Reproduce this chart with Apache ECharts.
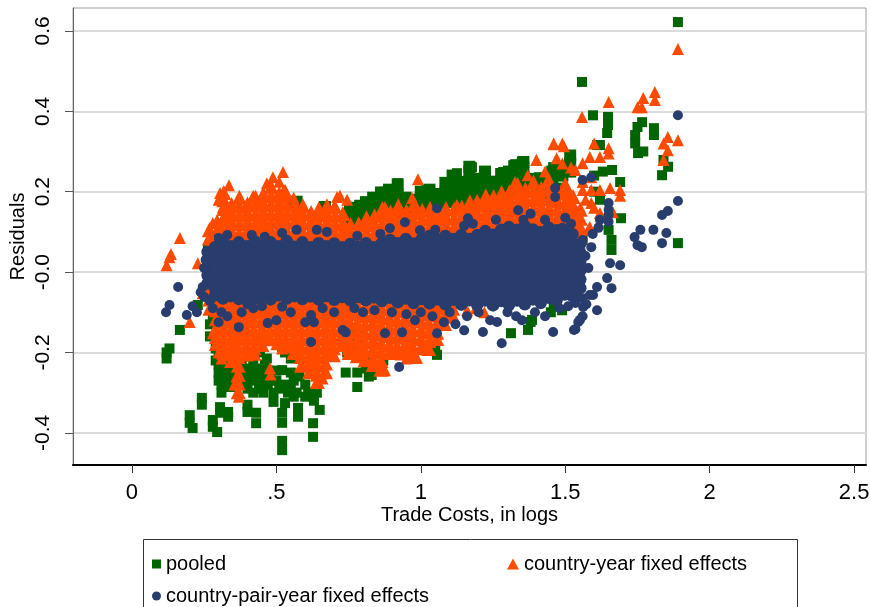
<!DOCTYPE html>
<html>
<head>
<meta charset="utf-8">
<script src="https://cdn.jsdelivr.net/npm/echarts@6/dist/echarts.min.js"></script>
<style>
  html, body { margin: 0; padding: 0; background: #fff; }
  #chart { width: 870px; height: 607px; }
</style>
</head>
<body>
<div id="chart"></div>
<script>
// axis ticks
const xTicks = [0, 0.5, 1, 1.5, 2, 2.5];
const xTickLabels = ['0', '.5', '1', '1.5', '2', '2.5'];
const yTicks = [-0.4, -0.2, 0, 0.2, 0.4, 0.6];
const yTickLabels = ['-0.4', '-0.2', '-0.0', '0.2', '0.4', '0.6'];

// ---- country-pair-year fixed effects (navy circles) ----
// dense band: [x, y, y, ...]
const pairBand = [
  [0.262, -.028, -.008, .012, .032, .05],
  [0.288, -.058, -.04, -.018, .002, .022, .042, .062],
  [0.315, -.066, -.047, -.027, -.006, .014, .034, .054, .072],
  [0.342, -.06, -.038, -.018, .003, .024, .044, .064],
  [0.37, -.067, -.048, -.027, -.007, .013, .033, .053, .074],
  [0.398, -.058, -.037, -.017, .004, .024, .045, .064],
  [0.425, -.066, -.046, -.026, -.005, .015, .035, .056, .076],
  [0.452, -.06, -.038, -.016, .004, .025, .044, .066],
  [0.48, -.068, -.047, -.027, -.006, .014, .034, .055, .074],
  [0.508, -.058, -.037, -.017, .003, .023, .043, .064],
  [0.536, -.066, -.046, -.025, -.005, .016, .036, .056, .077],
  [0.563, -.06, -.039, -.019, .002, .022, .042, .063],
  [0.59, -.067, -.047, -.026, -.006, .014, .035, .055, .074],
  [0.618, -.061, -.04, -.02, .001, .021, .041, .062],
  [0.646, -.068, -.048, -.028, -.007, .013, .033, .053, .072],
  [0.673, -.06, -.039, -.018, .002, .022, .043, .064],
  [0.70, -.069, -.049, -.028, -.008, .012, .032, .052, .071],
  [0.728, -.062, -.041, -.021, 0, .02, .041, .062],
  [0.756, -.07, -.05, -.029, -.009, .011, .031, .051, .07],
  [0.783, -.062, -.041, -.02, .001, .021, .042, .063],
  [0.81, -.07, -.05, -.03, -.009, .011, .031, .052, .072],
  [0.838, -.063, -.042, -.021, 0, .02, .041, .062],
  [0.865, -.072, -.051, -.03, -.01, .01, .031, .051, .072],
  [0.893, -.064, -.043, -.022, -.001, .02, .041, .062, .08],
  [0.92, -.075, -.054, -.033, -.012, .009, .03, .051, .072],
  [0.948, -.066, -.044, -.023, -.002, .019, .04, .061, .082],
  [0.975, -.077, -.056, -.035, -.013, .008, .029, .05, .071],
  [1.003, -.067, -.045, -.024, -.003, .018, .039, .06, .082],
  [1.03, -.078, -.057, -.035, -.014, .007, .028, .05, .071, .09],
  [1.058, -.068, -.046, -.025, -.003, .018, .039, .06, .081],
  [1.085, -.08, -.058, -.036, -.015, .006, .028, .049, .07, .09],
  [1.113, -.069, -.047, -.025, -.004, .017, .039, .06, .082],
  [1.14, -.081, -.059, -.037, -.015, .006, .027, .049, .07, .092],
  [1.168, -.07, -.048, -.026, -.004, .017, .038, .06, .082],
  [1.195, -.082, -.06, -.038, -.016, .005, .027, .049, .07, .092],
  [1.223, -.071, -.049, -.027, -.005, .017, .039, .061, .083, .102],
  [1.25, -.083, -.061, -.039, -.017, .005, .027, .049, .071, .093],
  [1.278, -.072, -.05, -.027, -.005, .017, .039, .061, .083, .105],
  [1.305, -.082, -.06, -.038, -.016, .006, .028, .05, .072, .094, .112],
  [1.333, -.071, -.049, -.026, -.004, .018, .04, .062, .084, .105],
  [1.36, -.08, -.058, -.036, -.014, .008, .03, .052, .074, .096, .114],
  [1.388, -.068, -.046, -.024, -.002, .02, .042, .064, .086, .106],
  [1.415, -.077, -.055, -.033, -.011, .011, .033, .055, .077, .099],
  [1.443, -.064, -.042, -.02, .002, .024, .046, .068, .09, .11],
  [1.47, -.07, -.048, -.026, -.004, .018, .04, .062, .084, .104],
  [1.498, -.056, -.034, -.012, .01, .032, .054, .076, .098],
  [1.525, -.06, -.038, -.016, .006, .028, .05, .072, .094],
  [1.552, -.04, -.018, .004, .026, .048, .07]
];
const pairScatter = [
  [0.16, -0.037], [0.245, -0.037], [0.13, -0.082], [0.118, -0.1], [0.21, -0.085], [0.19, -0.107],
  [0.225, -0.1], [0.25, -0.062], [0.238, -0.05], [0.27, -0.072], [0.255, 0.03], [0.25, 0.01],
  [0.28, -0.09], [0.3, -0.125], [0.31, -0.1], [0.33, -0.11], [0.37, -0.137], [0.38, -0.1],
  [0.4, -0.08], [0.42, -0.09], [0.45, -0.085], [0.47, -0.127], [0.5, -0.12], [0.52, -0.086],
  [0.55, -0.1], [0.6, -0.125], [0.62, -0.107], [0.63, -0.125], [0.62, -0.174], [0.66, -0.09],
  [0.7, -0.1], [0.73, -0.144], [0.74, -0.15], [0.77, -0.09], [0.8, -0.1], [0.84, -0.095],
  [0.876, -0.152], [0.9, -0.1], [0.935, -0.15], [0.95, -0.105], [0.98, -0.12], [1.0, -0.1],
  [1.04, -0.11], [1.08, -0.125], [1.1, -0.1], [1.12, -0.13], [1.15, -0.145], [1.16, -0.11],
  [1.2, -0.1], [1.215, -0.149], [1.24, -0.12], [1.264, -0.124], [1.28, -0.177], [1.3, -0.1],
  [1.33, -0.11], [1.35, -0.12], [1.395, -0.1], [1.43, -0.11], [1.458, -0.149], [1.48, -0.09],
  [1.51, -0.085], [1.53, -0.144], [1.535, -0.077], [1.545, -0.124], [1.551, -0.119], [1.562, -0.087],
  [0.925, -0.236], [1.056, -0.152],
  [0.3, 0.085], [0.33, 0.092], [0.415, 0.092], [0.46, 0.088], [0.52, 0.097], [0.57, 0.105],
  [0.64, 0.105], [0.675, 0.1], [0.78, 0.09], [0.86, 0.095], [0.893, 0.109], [0.945, 0.124],
  [0.997, 0.104], [1.056, 0.159], [1.05, 0.105], [1.15, 0.115], [1.163, 0.134], [1.18, 0.12],
  [1.26, 0.13], [1.31, 0.11], [1.337, 0.154], [1.355, 0.13], [1.38, 0.145], [1.43, 0.13],
  [1.465, 0.209], [1.465, 0.187], [1.49, 0.11], [1.5, 0.135], [1.52, 0.12], [1.5, 0.08],
  [1.52, 0.055], [1.54, 0.022], [1.54, 0.0], [1.57, 0.04], [1.58, 0.01],
  [1.56, 0.08], [1.59, 0.062], [1.595, 0.095], [1.615, 0.11], [1.62, 0.13], [1.65, 0.125],
  [1.65, 0.142], [1.65, 0.155], [1.65, 0.172], [1.56, 0.229], [1.59, 0.236],
  [1.645, -0.015], [1.655, 0.022], [1.69, 0.017], [1.66, -0.04], [1.61, -0.037], [1.585, -0.057],
  [1.56, -0.065], [1.573, -0.08], [1.61, -0.095], [1.56, -0.11], [1.596, -0.057], [1.535, -0.142],
  [1.74, 0.087], [1.75, 0.067], [1.765, 0.062], [1.76, 0.105], [1.805, 0.105], [1.85, 0.097],
  [1.835, 0.072], [1.835, 0.142], [1.855, 0.152], [1.89, 0.177], [1.89, 0.39]
];

// ---- country-year fixed effects (orange triangles) ----
const yearUpper = [
  [0.268, .04, .062, .085, .105],
  [0.295, .06, .082, .104, .126],
  [0.318, .07, .092, .114, .136, .158, .18, .198],
  [0.345, .08, .102, .124, .146, .168],
  [0.372, .075, .097, .12, .142, .164, .186],
  [0.40, .082, .104, .126, .148, .17],
  [0.428, .078, .1, .122, .144, .166, .186],
  [0.455, .084, .106, .128, .15, .172, .194],
  [0.482, .08, .102, .124, .146, .168, .19, .212],
  [0.51, .086, .108, .13, .152, .174, .196],
  [0.537, .08, .102, .124, .146, .168, .19],
  [0.565, .084, .106, .128, .15, .168],
  [0.592, .078, .1, .122, .144, .165],
  [0.62, .082, .104, .126, .148],
  [0.647, .076, .098, .12, .142, .158],
  [0.675, .08, .102, .124, .146, .165],
  [0.702, .075, .097, .119, .141, .163],
  [0.73, .08, .102, .124, .146],
  [0.757, .074, .096, .118],
  [0.785, .08, .1, .12],
  [0.812, .075, .097, .118, .135],
  [0.84, .08, .1, .12, .14],
  [0.867, .076, .098, .12, .142, .158],
  [0.895, .084, .106, .128, .15],
  [0.922, .08, .102, .124, .146, .165],
  [0.95, .086, .108, .13, .152],
  [0.977, .082, .104, .126, .148, .17],
  [1.005, .088, .11, .132, .154],
  [1.032, .092, .114, .136, .158],
  [1.06, .088, .11, .132, .152],
  [1.087, .094, .116, .138, .158],
  [1.115, .09, .112, .134, .156],
  [1.142, .096, .118, .14, .162],
  [1.17, .092, .114, .136, .158, .175],
  [1.197, .1, .122, .144, .166],
  [1.225, .106, .128, .15, .172, .19],
  [1.252, .102, .124, .146, .168, .188],
  [1.28, .11, .132, .154, .176, .198],
  [1.307, .116, .138, .16, .182, .2],
  [1.335, .11, .132, .154, .176, .198, .218],
  [1.362, .118, .14, .162, .184, .206],
  [1.39, .114, .136, .158, .18, .202, .224],
  [1.417, .12, .142, .164, .186, .208],
  [1.445, .116, .138, .16, .182, .204, .226],
  [1.472, .112, .134, .156, .178, .2],
  [1.50, .108, .13, .152, .174, .196, .218],
  [1.527, .1, .122, .144, .166, .188],
  [1.552, .09, .112, .134, .156]
];
const yearLower = [
  [0.27, -.045, -.067, -.09],
  [0.292, -.05, -.072, -.094, -.116, -.138, -.16, -.178],
  [0.318, -.055, -.077, -.099, -.121, -.143, -.165, -.187, -.2],
  [0.345, -.05, -.072, -.094, -.116, -.138, -.16, -.182, -.204, -.22],
  [0.368, -.056, -.078, -.1, -.122, -.144, -.166, -.188, -.21, -.232, -.254, -.276, -.298],
  [0.395, -.05, -.072, -.094, -.116, -.138, -.16, -.182, -.204],
  [0.422, -.056, -.078, -.1, -.122, -.144, -.166, -.188, -.202],
  [0.45, -.05, -.072, -.094, -.116, -.138, -.16, -.18],
  [0.477, -.056, -.078, -.1, -.122, -.144, -.166],
  [0.505, -.05, -.072, -.094, -.116, -.138, -.16, -.176],
  [0.532, -.056, -.078, -.1, -.122, -.144, -.166, -.184],
  [0.56, -.05, -.072, -.094, -.116, -.138, -.16, -.182, -.2],
  [0.587, -.056, -.078, -.1, -.122, -.144, -.166, -.188, -.21, -.232],
  [0.615, -.05, -.072, -.094, -.116, -.138, -.16, -.182, -.204, -.226, -.248],
  [0.642, -.056, -.078, -.1, -.122, -.144, -.166, -.188, -.21, -.232, -.254, -.272],
  [0.67, -.05, -.072, -.094, -.116, -.138, -.16, -.182, -.204, -.226, -.248],
  [0.697, -.056, -.078, -.1, -.122, -.144, -.166, -.188, -.206],
  [0.725, -.05, -.072, -.094, -.116, -.138, -.16, -.18],
  [0.752, -.056, -.078, -.1, -.122, -.144, -.166, -.188, -.2],
  [0.78, -.06, -.082, -.104, -.126, -.148, -.17, -.19, -.208],
  [0.807, -.064, -.086, -.108, -.13, -.152, -.174, -.196, -.218],
  [0.835, -.06, -.082, -.104, -.126, -.148, -.17, -.192, -.214, -.23],
  [0.862, -.066, -.088, -.11, -.132, -.154, -.176, -.198, -.22, -.242],
  [0.89, -.07, -.092, -.114, -.136, -.158, -.18, -.2],
  [0.917, -.074, -.096, -.118, -.14, -.162, -.184, -.2],
  [0.945, -.07, -.092, -.114, -.136, -.158, -.18, -.198],
  [0.972, -.076, -.098, -.12, -.142, -.164, -.186, -.21],
  [1.0, -.078, -.1, -.122, -.144, -.166, -.188],
  [1.027, -.082, -.104, -.126, -.148, -.17, -.19],
  [1.055, -.084, -.106, -.128, -.15, -.165],
  [1.082, -.088, -.11, -.128],
  [1.11, -.09, -.108]
];
const yearScatter = [
  [0.166, 0.085], [0.13, 0.037], [0.12, 0.017], [0.135, 0.045], [0.228, 0.022], [0.245, -0.053],
  [0.2, -0.124], [0.28, -0.152], [0.29, -0.14],
  [0.305, 0.197], [0.315, 0.162], [0.336, 0.216], [0.28, 0.122], [0.3, 0.18], [0.42, 0.19],
  [0.455, 0.197], [0.467, 0.221], [0.488, 0.236], [0.523, 0.249], [0.523, 0.2], [0.51, 0.225],
  [0.53, 0.205], [0.56, 0.185], [0.71, 0.187], [0.745, 0.18], [0.72, 0.19], [0.876, 0.162],
  [0.97, 0.184], [0.99, 0.231], [1.125, 0.167], [1.195, 0.18], [1.326, 0.224], [1.37, 0.241],
  [1.4, 0.279], [1.43, 0.25], [1.46, 0.32], [1.49, 0.32], [1.49, 0.27], [1.52, 0.26],
  [1.19, -0.09], [1.22, -0.1], [1.25, -0.075], [1.16, -0.095],
  [0.363, -0.26], [0.355, -0.28], [0.37, -0.31], [0.478, -0.239], [0.48, -0.255], [0.876, -0.244],
  [0.987, -0.214], [1.02, -0.19], [0.93, -0.205], [0.95, -0.215], [0.3, -0.2], [0.31, -0.215],
  [0.52, -0.19], [0.64, -0.276], [0.66, -0.265],
  [1.89, 0.555], [1.81, 0.448], [1.81, 0.428], [1.77, 0.433], [1.75, 0.41], [1.765, 0.41],
  [1.65, 0.423], [1.558, 0.386], [1.89, 0.328], [1.855, 0.336], [1.84, 0.32], [1.855, 0.303],
  [1.84, 0.279], [1.6, 0.32], [1.65, 0.308], [1.65, 0.295], [1.62, 0.286], [1.46, 0.318],
  [1.495, 0.313], [1.40, 0.279], [1.47, 0.283], [1.585, 0.286], [1.56, 0.271], [1.535, 0.254],
  [1.56, 0.224], [1.59, 0.236], [1.435, 0.224], [1.49, 0.21], [1.51, 0.204], [1.56, 0.204],
  [1.59, 0.204], [1.62, 0.204], [1.655, 0.209], [1.69, 0.204], [1.69, 0.19], [1.59, 0.172],
  [1.62, 0.147], [1.585, 0.112], [1.58, 0.105], [1.615, 0.122], [1.665, 0.149], [1.6, 0.16],
  [1.57, 0.18]
];

// ---- pooled (green squares) ----
const pooledUpper = [
  [0.57, .16, .175],
  [0.668, .15, .162],
  [0.755, .124, .146, .16],
  [0.79, .13, .15, .165],
  [0.81, .14, .162, .174],
  [0.835, .15, .172, .185],
  [0.862, .16, .18, .198],
  [0.89, .165, .185, .205],
  [0.92, .17, .192, .218],
  [0.947, .165, .185],
  [0.975, .16, .18],
  [1.0, .165, .185, .2],
  [1.03, .17, .19, .205],
  [1.058, .172, .194],
  [1.085, .175, .197, .222],
  [1.11, .175, .197, .22, .24],
  [1.14, .18, .202, .224],
  [1.168, .182, .204, .226, .25, .262],
  [1.195, .186, .208, .232],
  [1.222, .19, .212, .234, .25],
  [1.25, .195, .217, .225],
  [1.278, .2, .222, .244],
  [1.305, .206, .228, .25],
  [1.33, .21, .232, .254, .266],
  [1.355, .216, .238, .26, .274],
  [1.38, .22, .232],
  [1.41, .2, .222],
  [1.43, .21, .232],
  [1.455, .22, .242, .25],
  [1.49, .24, .26],
  [1.517, .25, .27, .29]
];
const pooledCore = [
  [0.35, .05, -.05], [0.45, .1, 0, -.1], [0.55, .08, -.04], [0.65, .1, 0, -.1],
  [0.75, .06, -.06], [0.85, .1, 0, -.1], [0.95, .12, .02, -.08], [1.05, .14, .04, -.06],
  [1.15, .15, .05, -.05], [1.25, .16, .06, -.04], [1.35, .17, .07, -.03], [1.45, .18, .08, -.02]
];
const pooledScatter = [
  [0.12, -0.2], [0.12, -0.215], [0.13, -0.19], [0.166, -0.144], [0.228, -0.082], [0.287, -0.052],
  [0.287, -0.075], [0.263, 0.055], [0.242, -0.313], [0.242, -0.33], [0.2, -0.356], [0.2, -0.375],
  [0.21, -0.388], [0.28, -0.368], [0.28, -0.385], [0.295, -0.398], [0.305, -0.336], [0.305, -0.35],
  [0.333, -0.348], [0.333, -0.36], [0.31, -0.3], [0.31, -0.28],
  [0.3, -0.23], [0.3, -0.25], [0.32, -0.24], [0.32, -0.26], [0.34, -0.23], [0.34, -0.25],
  [0.36, -0.24], [0.38, -0.23], [0.38, -0.25], [0.39, -0.27], [0.4, -0.29], [0.33, -0.27],
  [0.34, -0.286], [0.3, -0.27], [0.35, -0.22], [0.32, -0.21], [0.3, -0.21], [0.29, -0.19],
  [0.29, -0.22], [0.27, -0.13], [0.28, -0.11], [0.27, -0.16],
  [0.31, -0.225], [0.33, -0.215], [0.35, -0.24], [0.37, -0.225], [0.39, -0.24], [0.41, -0.25],
  [0.43, -0.26], [0.44, -0.24], [0.46, -0.25], [0.36, -0.27], [0.38, -0.28], [0.42, -0.3],
  [0.47, -0.28], [0.53, -0.28], [0.55, -0.29], [0.57, -0.3],
  [0.4, -0.33], [0.4, -0.348], [0.43, -0.35], [0.43, -0.376], [0.455, -0.3], [0.49, -0.3],
  [0.49, -0.323], [0.42, -0.27], [0.44, -0.29], [0.45, -0.27], [0.47, -0.245], [0.5, -0.245],
  [0.52, -0.35], [0.52, -0.375], [0.52, -0.42], [0.52, -0.443], [0.53, -0.326], [0.55, -0.25],
  [0.56, -0.27], [0.58, -0.26], [0.575, -0.338], [0.575, -0.36], [0.627, -0.376], [0.627, -0.41],
  [0.65, -0.343], [0.61, -0.3], [0.62, -0.3], [0.6, -0.28], [0.443, -0.2], [0.467, -0.215],
  [0.537, -0.19], [0.57, -0.19], [0.745, -0.2], [0.78, -0.187], [0.74, -0.25], [0.78, -0.25],
  [0.78, -0.286], [0.82, -0.26], [0.83, -0.256], [0.81, -0.24], [0.36, -0.21], [0.4, -0.21],
  [0.43, -0.17], [0.47, -0.17], [0.42, -0.23], [0.46, -0.23], [0.48, -0.27], [0.5, -0.27],
  [0.51, -0.29], [0.54, -0.3], [0.56, -0.31], [0.6, -0.31], [0.63, -0.32], [0.52, -0.244],
  [0.64, -0.3], [1.05, -0.186], [1.056, -0.206], [0.78, -0.17], [0.78, -0.157], [0.8, -0.2],
  [0.82, -0.22], [0.87, -0.22], [0.52, -0.187], [0.53, -0.2], [0.55, -0.215],
  [0.565, 0.172], [0.668, 0.159], [0.765, 0.154], [0.83, 0.174], [0.796, 0.149], [0.92, 0.221],
  [0.876, 0.2], [1.125, 0.246], [1.177, 0.261], [1.22, 0.249], [1.285, 0.249], [1.326, 0.266],
  [1.35, 0.274], [1.42, 0.234], [1.465, 0.249], [1.517, 0.291], [1.61, 0.316], [1.02, 0.204],
  [1.03, 0.191], [0.97, 0.167], [1.066, 0.196], [1.084, 0.224], [1.146, 0.221], [1.195, 0.234],
  [1.25, 0.221], [1.4, 0.196], [1.355, 0.179], [1.447, 0.204], [1.48, 0.21],
  [1.551, -0.032], [1.458, -0.045], [1.46, -0.077], [1.489, -0.095], [1.385, -0.119], [1.371, -0.144],
  [1.312, -0.152], [1.54, -0.05], [1.45, -0.1], [1.38, -0.124],
  [1.89, 0.622], [1.558, 0.473], [1.596, 0.39], [1.648, 0.386], [1.648, 0.366], [1.645, 0.346],
  [1.766, 0.373], [1.75, 0.361], [1.742, 0.341], [1.742, 0.32], [1.752, 0.296], [1.77, 0.3],
  [1.807, 0.358], [1.807, 0.341], [1.84, 0.279], [1.856, 0.262], [1.835, 0.241], [1.89, 0.072],
  [1.62, 0.316], [1.458, 0.261], [1.35, 0.271], [1.32, 0.266], [1.41, 0.236], [1.662, 0.254],
  [1.69, 0.224], [1.693, 0.134], [1.65, 0.105], [1.66, 0.08], [1.66, 0.055], [1.56, 0.08],
  [1.6, 0.2], [1.62, 0.18], [1.6, 0.24], [1.63, 0.25]
];

function fromColumns(table) {
  const out = [];
  table.forEach(row => {
    for (let i = 1; i < row.length; i++) out.push([row[0], row[i]]);
  });
  return out;
}

const FONT = "'Liberation Sans', Arial, sans-serif";
const GREEN = '#006400';
const ORANGE = '#ff4a00';
const NAVY = '#283d6d';

const POOLED = 'pooled';
const YEAR = 'country-year fixed effects';
const PAIR = 'country-pair-year fixed effects';

const chart = echarts.init(document.getElementById('chart'));

const legendText = { fontFamily: FONT, fontSize: 20, color: '#000' };

// dense (over-plotted) parts get a bigger mark so they read as solid areas
function cloud(name, symbol, size, color, data) {
  return { name, type: 'scatter', symbol, symbolSize: size, silent: true,
    itemStyle: { color, opacity: 1 }, data, progressive: 0 };
}

chart.setOption({
  animation: false,
  backgroundColor: '#fff',
  grid: {
    left: 73, top: 8, right: 4, bottom: 142,
    show: true, borderColor: '#a0a0a0', borderWidth: 1,
    outerBoundsMode: 'none'
  },
  xAxis: {
    type: 'value',
    min: -0.204, max: 2.541,
    name: 'Trade Costs, in logs',
    nameLocation: 'middle',
    nameGap: 40,
    nameMoveOverlap: false,
    nameTextStyle: { fontFamily: FONT, fontSize: 20, color: '#000' },
    axisLine: { onZero: false, lineStyle: { color: '#000', width: 2 } },
    axisTick: { show: true, length: 8, customValues: xTicks, lineStyle: { color: '#333' } },
    axisLabel: {
      customValues: xTicks,
      margin: 17,
      fontFamily: FONT, fontSize: 22, color: '#000',
      formatter: v => xTickLabels[xTicks.indexOf(v)]
    },
    splitLine: { show: false }
  },
  yAxis: {
    type: 'value',
    min: -0.48, max: 0.657,
    name: 'Residuals',
    nameLocation: 'middle',
    nameGap: 45,
    nameMoveOverlap: false,
    nameTextStyle: { fontFamily: FONT, fontSize: 20, color: '#000' },
    axisLine: { show: true, onZero: false, lineStyle: { color: '#666', width: 1 } },
    axisTick: { show: true, length: 8, customValues: yTicks, lineStyle: { color: '#555' } },
    axisLabel: {
      customValues: yTicks,
      rotate: 90,
      margin: 19,
      fontFamily: FONT, fontSize: 21, color: '#000',
      formatter: v => yTickLabels[yTicks.indexOf(v)]
    },
    splitLine: { show: true, lineStyle: { color: '#dcdcdc', width: 2 } }
  },
  legend: [
    { data: [POOLED], left: 147, top: 549, itemWidth: 9, itemHeight: 9,
      selectedMode: false, textStyle: legendText },
    { data: [YEAR], left: 502, top: 549, itemWidth: 12, itemHeight: 11,
      selectedMode: false, textStyle: legendText },
    { data: [PAIR], left: 147, top: 581, itemWidth: 9, itemHeight: 9,
      selectedMode: false, textStyle: legendText }
  ],
  graphic: [
    { type: 'rect', shape: { x: 143.5, y: 539.5, width: 654, height: 90 },
      style: { fill: 'none', stroke: '#333', lineWidth: 1 }, silent: true }
  ],
  series: [
    cloud(POOLED, 'rect', 10, GREEN, pooledScatter),
    cloud(POOLED, 'rect', 12, GREEN, fromColumns(pooledCore).concat(fromColumns(pooledUpper))),
    cloud(YEAR, 'triangle', 15, ORANGE, fromColumns(yearUpper).concat(fromColumns(yearLower))),
    cloud(YEAR, 'triangle', 12, ORANGE, yearScatter),
    cloud(PAIR, 'circle', 12.5, NAVY, fromColumns(pairBand)),
    cloud(PAIR, 'circle', 10, NAVY, pairScatter)
  ]
});
</script>
</body>
</html>
